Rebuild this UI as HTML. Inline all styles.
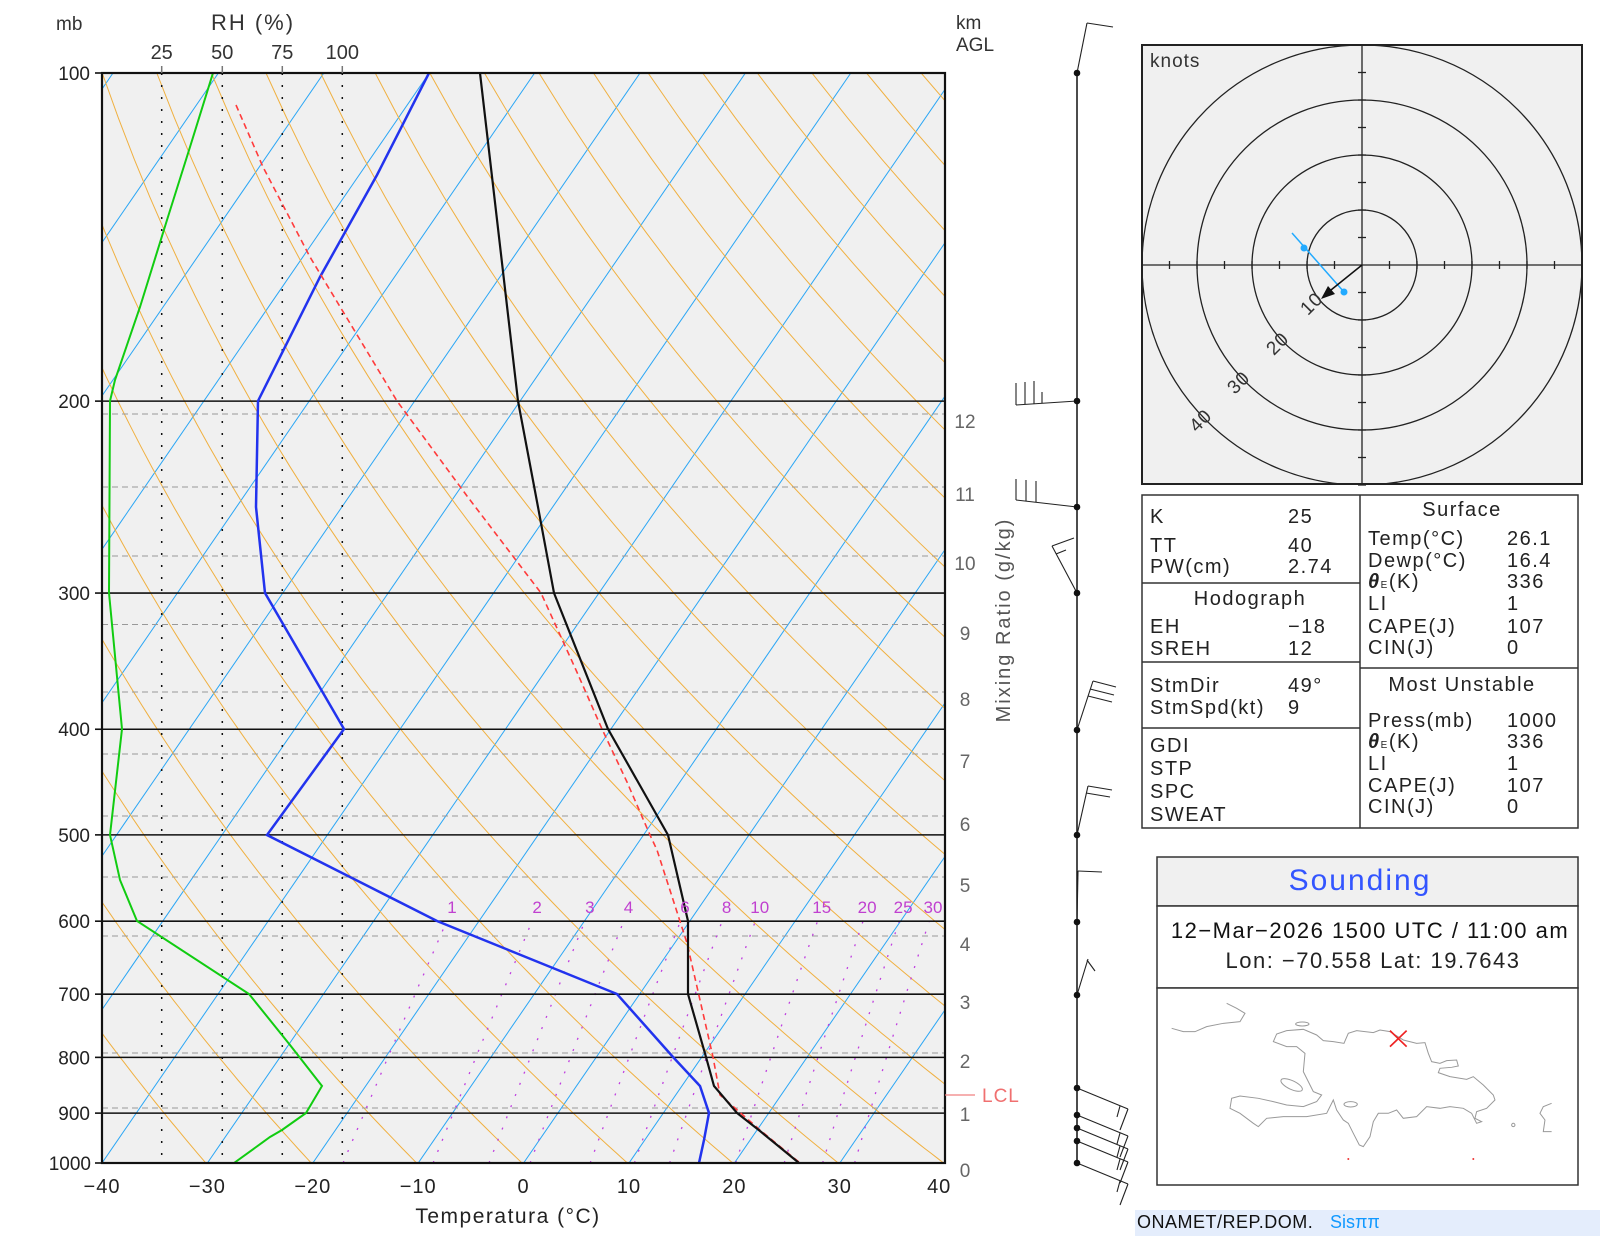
<!DOCTYPE html>
<html><head><meta charset="utf-8">
<style>
html,body{margin:0;padding:0;background:#fff;}
svg{display:block;font-family:"Liberation Sans","DejaVu Sans",sans-serif;}
</style></head>
<body>
<svg id="s" width="1600" height="1236" viewBox="0 0 1600 1236" xmlns="http://www.w3.org/2000/svg">
<defs><clipPath id="cp"><rect x="102" y="73" width="843" height="1090"/></clipPath>
<clipPath id="hc"><rect x="1142" y="45" width="440" height="439"/></clipPath></defs>
<rect x="102" y="73" width="843" height="1090" fill="#f0f0f0"/>
<g id="bg" clip-path="url(#cp)"></g>
<g id="fg"></g>

<!-- hodograph -->
<rect x="1142" y="45" width="440" height="439" fill="#f0f0f0" stroke="#222" stroke-width="2"/>
<g clip-path="url(#hc)" fill="none" stroke="#222" stroke-width="1.3">
<circle cx="1362" cy="265" r="55"/><circle cx="1362" cy="265" r="110"/><circle cx="1362" cy="265" r="165"/><circle cx="1362" cy="265" r="220"/>
<line x1="1142" y1="265" x2="1582" y2="265"/><line x1="1362" y1="45" x2="1362" y2="484"/>
</g>
<g id="hticks" stroke="#222" stroke-width="1.3"></g>
<g font-size="19" fill="#333" letter-spacing="1">
<text x="1150" y="67">knots</text>
<text transform="translate(1316,308) rotate(-45)" text-anchor="middle">10</text>
<text transform="translate(1282,348) rotate(-45)" text-anchor="middle">20</text>
<text transform="translate(1243,387) rotate(-45)" text-anchor="middle">30</text>
<text transform="translate(1205,425) rotate(-45)" text-anchor="middle">40</text>
</g>
<line x1="1292" y1="233" x2="1344" y2="292" stroke="#22aaff" stroke-width="1.5"/>
<circle cx="1304" cy="248" r="3.5" fill="#22aaff"/><circle cx="1344" cy="292" r="3.5" fill="#22aaff"/>
<line x1="1362" y1="265" x2="1326" y2="294" stroke="#111" stroke-width="1.5"/>
<polygon points="1321,299 1328,286 1335,294" fill="#111"/>

<!-- tables -->
<g fill="none" stroke="#333" stroke-width="1.5">
<rect x="1142" y="495" width="436" height="333"/>
<line x1="1360" y1="495" x2="1360" y2="828"/>
<line x1="1142" y1="583" x2="1360" y2="583"/>
<line x1="1142" y1="662" x2="1360" y2="662"/>
<line x1="1142" y1="728" x2="1360" y2="728"/>
<line x1="1360" y1="668" x2="1578" y2="668"/>
</g>
<g font-size="20" fill="#222" letter-spacing="1.5">
<text x="1150" y="523">K</text><text x="1288" y="523">25</text>
<text x="1150" y="552">TT</text><text x="1288" y="552">40</text>
<text x="1150" y="573">PW(cm)</text><text x="1288" y="573">2.74</text>
<text x="1250" y="605" text-anchor="middle">Hodograph</text>
<text x="1150" y="633">EH</text><text x="1288" y="633">−18</text>
<text x="1150" y="655">SREH</text><text x="1288" y="655">12</text>
<text x="1150" y="692">StmDir</text><text x="1288" y="692">49°</text>
<text x="1150" y="714">StmSpd(kt)</text><text x="1288" y="714">9</text>
<text x="1150" y="752">GDI</text>
<text x="1150" y="775">STP</text>
<text x="1150" y="798">SPC</text>
<text x="1150" y="821">SWEAT</text>
<text x="1462" y="516" text-anchor="middle">Surface</text>
<text x="1368" y="545">Temp(°C)</text><text x="1507" y="545">26.1</text>
<text x="1368" y="567">Dewp(°C)</text><text x="1507" y="567">16.4</text>
<text x="1368" y="588"><tspan font-style="italic" font-weight="bold">θ</tspan><tspan font-size="10">E</tspan>(K)</text><text x="1507" y="588">336</text>
<text x="1368" y="610">LI</text><text x="1507" y="610">1</text>
<text x="1368" y="633">CAPE(J)</text><text x="1507" y="633">107</text>
<text x="1368" y="654">CIN(J)</text><text x="1507" y="654">0</text>
<text x="1462" y="691" text-anchor="middle">Most Unstable</text>
<text x="1368" y="727">Press(mb)</text><text x="1507" y="727">1000</text>
<text x="1368" y="748"><tspan font-style="italic" font-weight="bold">θ</tspan><tspan font-size="10">E</tspan>(K)</text><text x="1507" y="748">336</text>
<text x="1368" y="770">LI</text><text x="1507" y="770">1</text>
<text x="1368" y="792">CAPE(J)</text><text x="1507" y="792">107</text>
<text x="1368" y="813">CIN(J)</text><text x="1507" y="813">0</text>
</g>

<!-- sounding box -->
<rect x="1157" y="857" width="421" height="49" fill="#f0f0f0" stroke="#333" stroke-width="1.5"/>
<rect x="1157" y="906" width="421" height="82" fill="#fff" stroke="#333" stroke-width="1.5"/>
<rect x="1157" y="988" width="421" height="197" fill="#fff" stroke="#333" stroke-width="1.5"/>
<text x="1360" y="890" font-size="30" fill="#3355ff" text-anchor="middle" letter-spacing="2">Sounding</text>
<text x="1370" y="938" font-size="22" fill="#111" text-anchor="middle" letter-spacing="1.5">12−Mar−2026 1500  UTC / 11:00  am</text>
<text x="1373" y="968" font-size="22" fill="#222" text-anchor="middle" letter-spacing="1.5">Lon:  −70.558     Lat:  19.7643</text>
<g transform="translate(1140,850) scale(0.3333)" fill="none" stroke="#999" stroke-width="3">
<polyline points="95,535 130,545 165,545 200,530 250,520 300,515 315,490 290,475 260,460"/>
<polygon points="400,575 410,552 440,542 490,538 530,555 550,572 580,575 612,580 625,550 650,542 700,548 720,540 750,545 790,570 830,580 855,578 865,610 875,635 900,640 920,632 950,630 955,648 935,652 900,655 895,668 930,680 980,688 1000,680 1030,705 1060,735 1065,750 1040,775 1010,785 1005,805 1025,815 1010,820 995,790 970,775 930,770 900,775 860,770 830,800 790,805 770,780 745,790 715,790 700,815 690,860 670,890 658,885 640,850 625,820 610,810 590,780 580,750 560,790 500,800 430,800 380,805 355,830 340,820 300,790 270,775 275,745 300,738 355,745 400,755 440,765 490,770 530,755 545,735 520,725 505,695 490,665 495,610 470,590 440,590"/>
<ellipse cx="455" cy="705" rx="35" ry="13" transform="rotate(25 455 705)"/>
<ellipse cx="487" cy="522" rx="20" ry="6"/>
<ellipse cx="632" cy="763" rx="20" ry="8"/>
<polyline points="1235,760 1210,770 1200,790 1215,810 1210,845 1235,845"/>
<circle cx="1120" cy="825" r="5"/>
<line x1="750" y1="542" x2="800" y2="590" stroke="#ee2222" stroke-width="5"/>
<line x1="800" y1="542" x2="750" y2="590" stroke="#ee2222" stroke-width="5"/>
<circle cx="625" cy="927" r="3" fill="#e33" stroke="none"/><circle cx="1000" cy="927" r="3" fill="#e33" stroke="none"/>
</g>
<rect x="1135" y="1210" width="465" height="26" fill="#e4edfc"/>
<text x="1137" y="1228" font-size="18" fill="#111" letter-spacing="0.5">ONAMET/REP.DOM.</text>
<text x="1330" y="1228" font-size="18" fill="#1199ff">Sisππ</text>
</svg>
<script>
(function(){
function yP(p){return 73+1090*Math.log10(p/100);}
function xT(T,p){return 102+(T+40)*10.54+0.687*(1163-yP(p));}
var bg='',fg='';
// isotherms
for(var T=-150;T<=40;T+=10){bg+='<line x1="'+xT(T,1000)+'" y1="1163" x2="'+xT(T,100)+'" y2="73" stroke="#2aa6f5" stroke-width="1"/>';}
// dry adiabats
for(var th=243;th<=493;th+=10){var pts=[];for(var p=1000;p>=100;p-=10){var t=th*Math.pow(p/1000,0.2857)-273.15;pts.push(xT(t,p).toFixed(1)+','+yP(p).toFixed(1));}
bg+='<polyline points="'+pts.join(' ')+'" fill="none" stroke="#f0b040" stroke-width="1"/>';}
// km dashed lines
[414,487,556,624.5,692,754,816,877,936,1053,1108].forEach(function(y){bg+='<line x1="102" y1="'+y+'" x2="945" y2="'+y+'" stroke="#999" stroke-width="1" stroke-dasharray="6,4"/>';});
// mixing ratio
[1,2,3,4,6,8,10,15,20,25,30].forEach(function(w){var pts=[];for(var p=1000;p>=600;p-=10){var e=w*p/(622+w),l=Math.log(e/6.112),td=243.5*l/(17.67-l);pts.push(xT(td,p).toFixed(1)+','+yP(p).toFixed(1));}
bg+='<polyline points="'+pts.join(' ')+'" fill="none" stroke="#c040e0" stroke-width="1.3" stroke-dasharray="2,10"/>';
var e=w*585/(622+w),l=Math.log(e/6.112),td=243.5*l/(17.67-l);fg+='<text x="'+xT(td,585).toFixed(1)+'" y="913" font-size="17" fill="#c040d0" text-anchor="middle">'+w+'</text>';});
// RH dotted verticals
[161.7,222.3,282.3,342.3].forEach(function(x){bg+='<line x1="'+x+'" y1="73" x2="'+x+'" y2="1163" stroke="#111" stroke-width="1.5" stroke-dasharray="2,10"/>';});
// pressure lines
for(var p=100;p<=1000;p+=100){var y=yP(p);bg+='<line x1="102" y1="'+y+'" x2="945" y2="'+y+'" stroke="#111" stroke-width="1.6"/>';
fg+='<line x1="95" y1="'+y+'" x2="102" y2="'+y+'" stroke="#111" stroke-width="1.6"/>';
fg+='<text x="'+(p==1000?91:90)+'" y="'+(y+7)+'" font-size="19" fill="#222" text-anchor="end">'+p+'</text>';}
// profiles
function pl(a,st){return '<polyline points="'+a.map(function(q){return q.join(',');}).join(' ')+'" fill="none" '+st+'/>';}
bg+=pl([[213,73],[190,147],[167,220],[140,307],[115,380],[110,401],[109,593],[122,729],[110,835],[120,880],[137,921],[249,994],[290,1045],[322,1086],[306,1113],[282,1130],[270,1137],[234,1163]],'stroke="#11cc11" stroke-width="2"');
bg+=pl([[429,73],[377,175],[320,277],[258,401],[256,507],[265,593],[344,729],[267,835],[437,921],[617,994],[673,1057],[700,1086],[709,1113],[704,1140],[699,1163]],'stroke="#2233ee" stroke-width="2.5"');
bg+=pl([[236,105],[263,167],[310,257],[397,401],[467,496],[541,593],[576,670],[602,729],[627,782],[650,835],[657,850],[687,943],[713,1057],[720,1095],[760,1130],[800,1163]],'stroke="#ff3b3b" stroke-width="1.6" stroke-dasharray="6,4"');
bg+=pl([[480,73],[518,401],[538,507],[554,593],[608,729],[668,835],[688,921],[688,994],[706,1057],[714,1086],[737,1113],[760,1131],[799,1163]],'stroke="#111" stroke-width="2.2"');
document.getElementById('bg').innerHTML=bg;
// border, labels
fg+='<rect x="102" y="73" width="843" height="1090" fill="none" stroke="#111" stroke-width="2.2"/>';
[161.7,222.3,282.3,342.3].forEach(function(x,i){fg+='<line x1="'+x+'" y1="66" x2="'+x+'" y2="73" stroke="#777" stroke-width="1.5"/>';fg+='<text x="'+x+'" y="59" font-size="20" fill="#333" text-anchor="middle">'+[25,50,75,100][i]+'</text>';});
fg+='<text x="56" y="30" font-size="19" fill="#333">mb</text>';
fg+='<text x="253" y="30" font-size="22" fill="#333" text-anchor="middle" letter-spacing="2">RH (%)</text>';
fg+='<text x="956" y="29" font-size="19" fill="#333">km</text><text x="956" y="51" font-size="19" fill="#333">AGL</text>';
[-40,-30,-20,-10,0,10,20,30,40].forEach(function(T){fg+='<text x="'+(xT(T,1000)+(T==40?-6:0))+'" y="1193" font-size="20" fill="#222" text-anchor="middle" letter-spacing="1">'+(T<0?'−'+(-T):T)+'</text>';});
fg+='<text x="508" y="1223" font-size="21" fill="#222" text-anchor="middle" letter-spacing="1.5">Temperatura (°C)</text>';
[[12,421],[11,494],[10,563],[9,633],[8,699],[7,761],[6,824],[5,885],[4,944],[3,1002],[2,1061],[1,1114],[0,1170]].forEach(function(a){fg+='<text x="965" y="'+(a[1]+7)+'" font-size="19" fill="#666" text-anchor="middle">'+a[0]+'</text>';});
fg+='<text transform="translate(1010,620) rotate(-90)" font-size="20" fill="#555" text-anchor="middle" letter-spacing="2">Mixing Ratio (g/kg)</text>';
fg+='<line x1="945" y1="1095" x2="975" y2="1095" stroke="#f08080" stroke-width="1.2"/><text x="982" y="1102" font-size="19" fill="#f07070" letter-spacing="1">LCL</text>';
// wind barbs
var W='<line x1="1077" y1="73" x2="1077" y2="1163" stroke="#111" stroke-width="1.5"/>';
function L(a,b,c,d){W+='<line x1="'+a+'" y1="'+b+'" x2="'+c+'" y2="'+d+'" stroke="#222" stroke-width="1.1"/>';}
L(1077,73,1087,23);L(1087,23,1113,27);
L(1077,401,1016,405);L(1016,405,1016,383);L(1025,404.5,1025,382);L(1034,404,1034,381);L(1042,403.5,1042,392);
L(1077,507,1016,500);L(1016,500,1016,479);L(1026,501,1026,480);L(1036,502,1036,481);
L(1077,593,1052,546);L(1052,546,1074,538);L(1056,554,1066,550);
L(1077,730,1093,681);L(1093,681,1116,687);L(1090,689,1114,695);L(1088,696,1112,702);
L(1077,835,1088,786);L(1088,786,1112,790);L(1086,793,1110,797);
L(1077,922,1078,871);L(1078,871,1102,872);
L(1077,995,1088,959);L(1087,960,1095,971);
[1088,1115,1128,1141,1163].forEach(function(y){var tx=1077+51,ty=y+21;L(1077,y,tx,ty);L(tx,ty,tx-8,ty+21);L(tx-8,ty-3,tx-11,ty+8);});
[73,401,507,593,730,835,922,995,1088,1115,1128,1141,1163].forEach(function(y){W+='<circle cx="1077" cy="'+y+'" r="3.3" fill="#111"/>';});
fg+=W;
document.getElementById('fg').innerHTML=fg;
// hodo ticks
var h='';for(var i=-8;i<=8;i++){if(i==0)continue;var d=i*27.5;h+='<line x1="'+(1362+d)+'" y1="261" x2="'+(1362+d)+'" y2="269"/><line x1="1358" y1="'+(265+d)+'" x2="1366" y2="'+(265+d)+'"/>';}
document.getElementById('hticks').innerHTML=h;
})();
</script>
</body></html>
